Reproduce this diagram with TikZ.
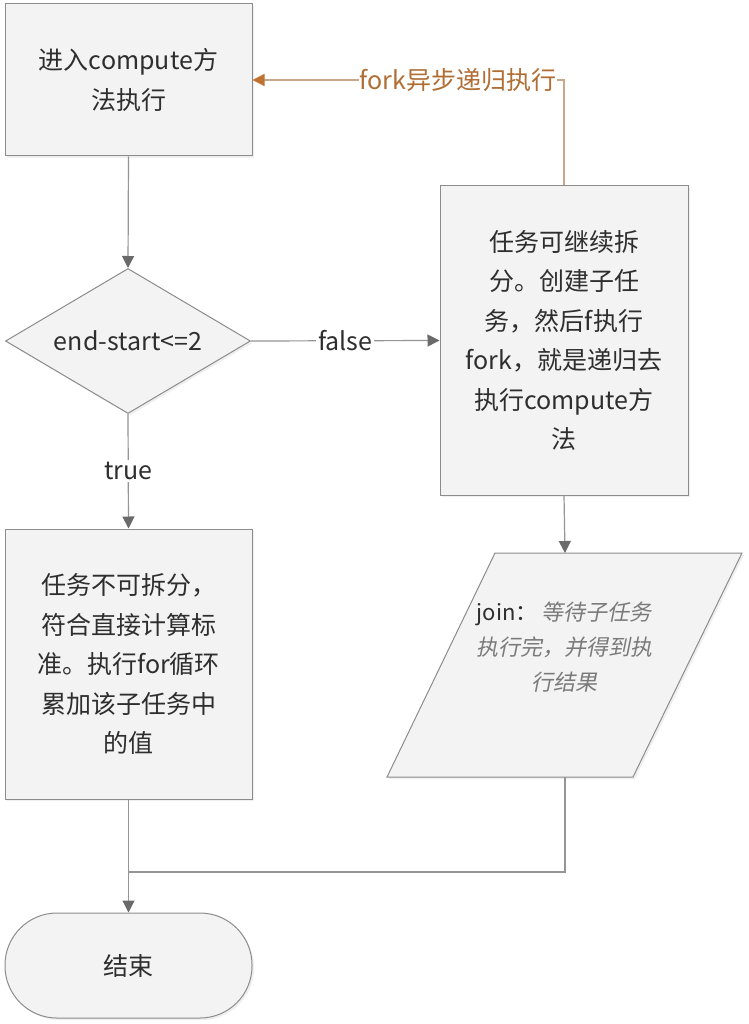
\documentclass[tikz,border=0pt]{standalone}
\usepackage{fontspec}
\setmainfont{Noto Sans CJK SC}
\newfontfamily\cjkslant[FakeSlant=0.2]{Noto Sans CJK SC}
\usetikzlibrary{arrows.meta,shapes.geometric,shadows}
\definecolor{bordc}{HTML}{8C8C8C}
\definecolor{boxfill}{HTML}{F3F3F3}
\definecolor{txtc}{HTML}{2E2E2E}
\definecolor{linec}{HTML}{959595}
\definecolor{tipc}{HTML}{6A6A6A}
\definecolor{olinec}{HTML}{C9A78A}
\definecolor{otipc}{HTML}{C07232}
\definecolor{otxtc}{HTML}{B06E35}
\definecolor{itc}{HTML}{7A7A7A}
\begin{document}
\begin{tikzpicture}[x=1pt,y=-1pt,
  shad/.style={drop shadow={shadow xshift=2pt,shadow yshift=-2pt,opacity=0.12}},
  box/.style={draw=bordc,fill=boxfill,line width=1pt,align=center,text=txtc,
    font=\fontsize{25}{39.5}\selectfont,inner sep=0pt,shad},
  dia/.style={draw=bordc,fill=boxfill,line width=1pt,shape=diamond,inner sep=0pt,
    aspect=1.7,minimum width=245,minimum height=145,text=txtc,font=\fontsize{25}{30}\selectfont,shad},
  term/.style={draw=bordc,fill=boxfill,line width=1pt,rounded corners=52pt,
    minimum width=247,minimum height=105,text=txtc,font=\fontsize{25}{30}\selectfont,shad},
  arr/.style={draw=linec,line width=1.2pt,-{Triangle[width=12pt,length=12pt,color=tipc]}},
  plain/.style={draw=linec,line width=1.2pt},
  oarr/.style={draw=olinec,line width=1.2pt,-{Triangle[width=12pt,length=12pt,color=otipc]}},
  lbl/.style={fill=white,text=txtc,font=\fontsize{25}{30}\selectfont,inner sep=2pt},
  olbl/.style={fill=white,text=otxtc,font=\fontsize{25}{30}\selectfont,inner sep=1pt}
]
\useasboundingbox[fill=white] (0,0) rectangle (748,1024);

\node[box,minimum width=247,minimum height=152] (start) at (128.5,80) {进入compute方\\法执行};
\node[dia] (dec) at (128,341) {end-start<=2};
\node[box,minimum width=248,minimum height=309] (split) at (564,340.5)
  {任务可继续拆\\分。创建子任\\务，然后f执行\\fork，就是递归去\\执行compute方\\法};
\node[box,minimum width=247,minimum height=270] (leaf) at (128.5,664)
  {任务不可拆分，\\符合直接计算标\\准。执行for循环\\累加该子任务中\\的值};

\path[draw=bordc,fill=boxfill,line width=1pt,shad] (495,553) -- (742,553) -- (633,777) -- (387,777) -- cycle;
\node[align=center,font=\fontsize{22}{35}\selectfont,text=itc,inner sep=0pt] (join) at (564,647)
  {{\color{txtc}join：}\,{\cjkslant 等待子任务}\\{\cjkslant 执行完，并得到执}\\{\cjkslant 行结果}};
\coordinate (jt) at (565,553);
\coordinate (jb) at (565,777);

\node[term] (end) at (128.5,965.5) {结束};
\coordinate (merge) at (128.5,872);

\draw[arr] (start.south) -- (dec.north);
\draw[arr] (dec.east) -- node[lbl]{false} (split.west);
\draw[arr] (dec.south) -- node[lbl,pos=0.5]{true} (leaf.north);
\draw[arr] (split.south) -- (jt);
\draw[plain] (jb) |- (merge);
\draw[arr] (leaf.south) -- (end.north);
\draw[oarr] (split.north) |- node[olbl,pos=0.67]{fork异步递归执行} (start.east);
\end{tikzpicture}
\end{document}
